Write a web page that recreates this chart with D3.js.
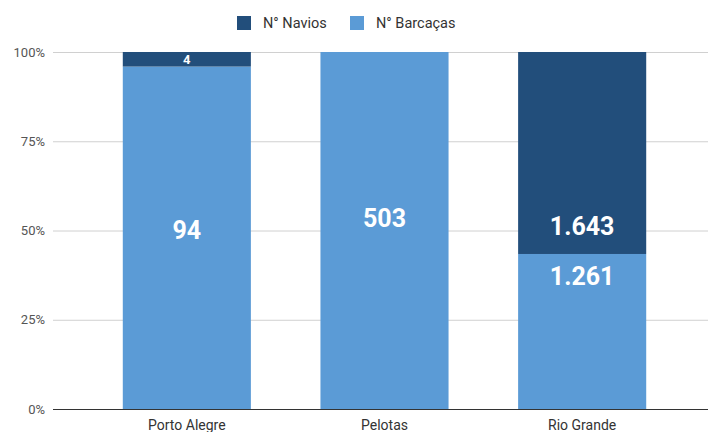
<!DOCTYPE html>
<html>
<head>
<meta charset="utf-8">
<script src="https://cdn.jsdelivr.net/npm/d3@7"></script>
<style>
  body { margin: 0; background: #fff; }
  text { font-family: Roboto, "Noto Sans", sans-serif; }
</style>
</head>
<body>
<div id="chart"></div>
<script>
// data
var ports = ["Porto Alegre", "Pelotas", "Rio Grande"];
var navios = [4, 0, 1643];
var barcacas = [94, 503, 1261];
var seriesNames = ["N° Navios", "N° Barcaças"];
var yTicks = [0, 0.25, 0.5, 0.75, 1];

var width = 708, height = 432;
var colors = { "N° Navios": "#224e7b", "N° Barcaças": "#5b9bd6" };

var svg = d3.select("#chart").append("svg")
    .attr("width", width)
    .attr("height", height);

var x = d3.scaleBand().domain(ports).range([88, 681]).paddingInner(0.352).paddingOuter(0.176);
var y = d3.scaleLinear().domain([0, 1]).range([409, 52]);

var rows = ports.map(function (p, i) {
    var t = navios[i] + barcacas[i];
    return { port: p, "N° Navios": navios[i] / t, "N° Barcaças": barcacas[i] / t, nav: navios[i], bar: barcacas[i] };
});
var stack = d3.stack().keys(["N° Barcaças", "N° Navios"]);
var layers = stack(rows);

// gridlines
svg.append("g").selectAll("line")
    .data(yTicks.filter(function (d) { return d > 0; }))
    .enter().append("line")
    .attr("x1", 53).attr("x2", width)
    .attr("y1", function (d) { return y(d) + 0.5; })
    .attr("y2", function (d) { return y(d) + 0.5; })
    .attr("stroke", "#d0d0d0");

// y labels
svg.append("g").selectAll("text")
    .data(yTicks)
    .enter().append("text")
    .attr("x", 45)
    .attr("y", function (d) { return y(d) + 4.5; })
    .attr("text-anchor", "end")
    .attr("fill", "#555")
    .style("font-size", "13px")
    .text(d3.format(".0%"));

// bars
svg.append("g").selectAll("g")
    .data(layers)
    .enter().append("g")
    .attr("fill", function (d) { return colors[d.key]; })
    .selectAll("rect")
    .data(function (d) { return d; })
    .enter().append("rect")
    .attr("x", function (d) { return x(d.data.port); })
    .attr("width", x.bandwidth())
    .attr("y", function (d) { return y(d[1]); })
    .attr("height", function (d) { return y(d[0]) - y(d[1]); });

// baseline
svg.append("line")
    .attr("x1", 53).attr("x2", width)
    .attr("y1", y(0) + 0.5).attr("y2", y(0) + 0.5)
    .attr("stroke", "#333");

// value labels (placed like the original)
var fmt = function (v) { return d3.format(",")(v).replace(/,/g, "."); };
var labels = [
    { port: "Porto Alegre", v: 94, at: 0.5, size: 25 },
    { port: "Pelotas", v: 503, at: 0.534, size: 25 },
    { port: "Rio Grande", v: 1643, at: 0.513, size: 25 },
    { port: "Rio Grande", v: 1261, at: 0.373, size: 25 },
    { port: "Porto Alegre", v: 4, at: rows[0]["N° Barcaças"] + rows[0]["N° Navios"] / 2, size: 13 }
];
svg.append("g").selectAll("text")
    .data(labels)
    .enter().append("text")
    .attr("x", function (d) { return x(d.port) + x.bandwidth() / 2; })
    .attr("y", function (d) { return y(d.at); })
    .attr("dy", "0.35em")
    .attr("text-anchor", "middle")
    .attr("fill", "#fff")
    .style("font-weight", "bold")
    .style("font-size", function (d) { return d.size + "px"; })
    .text(function (d) { return fmt(d.v); });

// x labels
svg.append("g").selectAll("text")
    .data(ports)
    .enter().append("text")
    .attr("x", function (d) { return x(d) + x.bandwidth() / 2; })
    .attr("y", 430)
    .attr("text-anchor", "middle")
    .attr("fill", "#333")
    .style("font-size", "14px")
    .text(function (d) { return d; });

// legend
var legendX = [237, 350];
var legend = svg.append("g").selectAll("g")
    .data(seriesNames)
    .enter().append("g")
    .attr("transform", function (d, i) { return "translate(" + legendX[i] + ",16)"; });
legend.append("rect")
    .attr("width", 14).attr("height", 14)
    .attr("fill", function (d) { return colors[d]; });
legend.append("text")
    .attr("x", 26).attr("y", 12)
    .attr("fill", "#333")
    .style("font-size", "14.5px")
    .text(function (d) { return d; });
</script>
</body>
</html>
